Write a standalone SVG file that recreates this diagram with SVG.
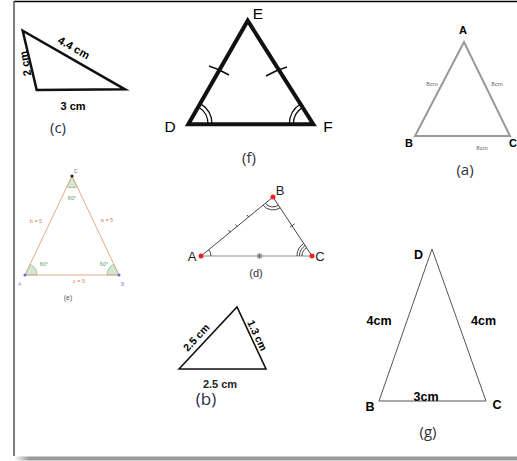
<svg xmlns="http://www.w3.org/2000/svg" width="517" height="461" viewBox="0 0 517 461">
<style>
text{font-family:"Liberation Sans",Arial,sans-serif;}
.cal{font-family:"Open Sans","Liberation Sans",sans-serif;}
.b{font-weight:bold;}
.m{text-anchor:middle;}
.thin{fill:none;stroke-width:1;}
</style>
<defs>
<linearGradient id="shade" x1="0" x2="1" y1="0" y2="0">
<stop offset="0" stop-color="#999" stop-opacity="0"/>
<stop offset="0.03" stop-color="#999" stop-opacity="1"/>
<stop offset="1" stop-color="#999"/>
</linearGradient>
</defs>
<rect width="517" height="461" fill="#fff"/>
<g id="frame">
<line x1="14" y1="1.5" x2="517" y2="1.5" stroke="#000" stroke-width="1.5"/>
<line x1="14" y1="1" x2="14" y2="456" stroke="#555" stroke-width="1.5"/>
<rect x="14" y="456.5" width="503" height="4" fill="url(#shade)"/>
</g>

<g id="tri-c">
<polygon points="22.7,30.7 36.7,90 125,89.3" fill="none" stroke="#111" stroke-width="2.5" stroke-linejoin="miter"/>
<text class="b m" font-size="11" transform="translate(72,51) rotate(29.6)">4.4 cm</text>
<text class="b m" font-size="11" transform="translate(29,63) rotate(-100)">2 cm</text>
<text class="b m" font-size="11" x="73" y="110">3 cm</text>
<text class="cal m" font-size="15" x="58" y="133" fill="#1f2f4f">(c)</text>
</g>

<g id="tri-f">
<polygon points="188.3,124.3 247.7,20.7 313.3,124.3" fill="none" stroke="#111" stroke-width="4" stroke-linejoin="miter"/>
<path d="M212,124.3 A24,24 0 0 0 200.4,103.6 M208,124.3 A20,20 0 0 0 198.4,107" fill="none" stroke="#111" stroke-width="1.3"/>
<path d="M289.3,124.3 A24,24 0 0 1 300.5,104 M293.3,124.3 A20,20 0 0 1 302.6,107.4" fill="none" stroke="#111" stroke-width="1.3"/>
<path d="M209,66 Q219,69 229,75" fill="none" stroke="#111" stroke-width="1.5"/>
<path d="M266,76 Q276,70 287,67" fill="none" stroke="#111" stroke-width="1.5"/>
<text class="m" font-size="15.5" x="258" y="19">E</text>
<text class="m" font-size="15.5" x="170" y="132">D</text>
<text class="m" font-size="15.5" x="328" y="132">F</text>
<text class="cal m" font-size="15" x="249" y="163" fill="#333">(f)</text>
</g>

<g id="tri-a">
<polygon points="464,42 415,136 510,136" fill="none" stroke="#999" stroke-width="2"/>
<text class="b m" font-size="11" x="463" y="34">A</text>
<text class="b m" font-size="11" x="409" y="147">B</text>
<text class="b" font-size="11" x="509" y="147">C</text>
<text class="m" font-size="6" x="432" y="86" fill="#666">8cm</text>
<text class="m" font-size="6" x="497" y="86" fill="#666">8cm</text>
<text class="m" font-size="6" x="482" y="150" fill="#666">8cm</text>
<text class="cal m" font-size="15" x="465" y="175" fill="#333">(a)</text>
</g>

<g id="tri-e">
<path d="M25,275 L37,275 A12,12 0 0 0 30.1,264.2 Z" fill="#cfe8cf" stroke="#7fb37f" stroke-width="0.7"/>
<path d="M119,275 L107,275 A12,12 0 0 1 113.9,264.2 Z" fill="#cfe8cf" stroke="#7fb37f" stroke-width="0.7"/>
<path d="M72,176 L66.9,186.8 A12,12 0 0 0 77.1,186.8 Z" fill="#cfe8cf" stroke="#7fb37f" stroke-width="0.7"/>
<polygon points="72,176 25,275 119,275" fill="none" stroke="#e8a88a" stroke-width="1"/>
<circle cx="72" cy="176" r="1.6" fill="#222"/>
<circle cx="25" cy="275" r="1.6" fill="#6a6af0"/>
<circle cx="119" cy="275" r="1.6" fill="#6a6af0"/>
<text font-size="5" x="74" y="173" fill="#666">C</text>
<text font-size="5" x="18" y="286" fill="#8a8af0">A</text>
<text font-size="5" x="121" y="286" fill="#8a8af0">B</text>
<text class="m" font-size="5.5" x="72" y="200" fill="#5a9a5a">60°</text>
<text class="m" font-size="5.5" x="44" y="266" fill="#5a9a5a">60°</text>
<text class="m" font-size="5.5" x="104" y="266" fill="#5a9a5a">60°</text>
<text class="m" font-size="5.5" x="36" y="223" fill="#d08060">b = 5</text>
<text class="m" font-size="5.5" x="107" y="222" fill="#d08060">a = 5</text>
<text class="m" font-size="5.5" x="79" y="283" fill="#d08060">c = 5</text>
<text class="m" font-size="7" x="68" y="300" fill="#555">(e)</text>
</g>

<g id="tri-d">
<line x1="201" y1="256" x2="312" y2="256" stroke="#888" stroke-width="1"/>
<polyline points="201,256 273,197 312,256" fill="none" stroke="#444" stroke-width="1"/>
<path d="M211,256 A10,10 0 0 0 208.7,249.7" class="thin" stroke="#444"/>
<path d="M265.3,203.3 A10,10 0 0 0 278.5,205.3 M263,205.2 A13,13 0 0 0 280.2,207.8" class="thin" stroke="#444"/>
<path d="M302,256 A10,10 0 0 1 306.5,247.7 M299.5,256 A12.5,12.5 0 0 1 305.1,245.6 M297,256 A15,15 0 0 1 303.7,243.5" class="thin" stroke="#444"/>
<path d="M228.6,230 l1.6,2 M235.5,224.5 l1.6,2 M247,215 l1.6,2" class="thin" stroke="#444"/>
<path d="M290,227 l4.5,-3" class="thin" stroke="#444" stroke-width="1.2"/>
<path d="M258,253.5 v5 M259.5,253.5 v5 M261,253.5 v5" class="thin" stroke="#666"/>
<circle cx="201" cy="256" r="2.5" fill="#e22"/>
<circle cx="273" cy="197" r="2.5" fill="#e22"/>
<circle cx="312" cy="256" r="2.5" fill="#e22"/>
<text class="m" font-size="13" x="192" y="261" fill="#222">A</text>
<text class="m" font-size="13" x="280" y="195" fill="#222">B</text>
<text class="m" font-size="13" x="320" y="261" fill="#222">C</text>
<text class="m" font-size="11" x="256" y="277" fill="#333">(d)</text>
</g>

<g id="tri-b">
<polygon points="179,369 237,307 266,369" fill="none" stroke="#111" stroke-width="1.6"/>
<text class="b m" font-size="10.5" transform="translate(199,340) rotate(-47)">2.5 cm</text>
<text class="b m" font-size="10.5" transform="translate(254,337) rotate(64.9)">1.3 cm</text>
<text class="m" font-size="11" x="220" y="388" fill="#222" font-weight="bold">2.5 cm</text>
<text class="cal m" font-size="17" x="206" y="405" fill="#1f2f4f">(b)</text>
</g>

<g id="tri-g">
<polygon points="432,249 379,401 486,401" fill="none" stroke="#555" stroke-width="1"/>
<text class="b m" font-size="12.5" x="418.5" y="259">D</text>
<text class="b m" font-size="12.5" x="379" y="325">4cm</text>
<text class="b m" font-size="12.5" x="483.5" y="325">4cm</text>
<text class="b m" font-size="12.5" x="426" y="401">3cm</text>
<text class="b m" font-size="12.5" x="370" y="411">B</text>
<text class="b m" font-size="12.5" x="497" y="409">C</text>
<text class="cal m" font-size="15" x="428" y="437" fill="#333">(g)</text>
</g>
</svg>
